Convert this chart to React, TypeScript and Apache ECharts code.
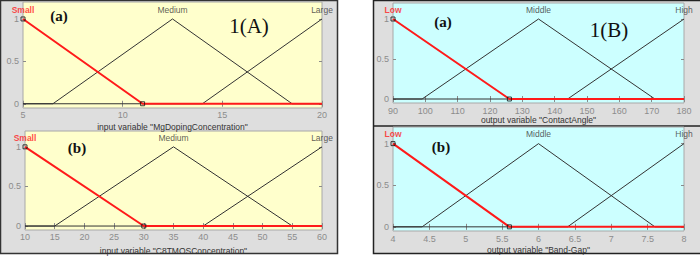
import React, { useEffect, useRef } from "react";
import * as echarts from "echarts";

// ---- Data ----
// Panel 1(A)(a): MgDopingConcentration
const mgRange = [5, 20];
const mgSmall = [[5, 1], [11, 0], [20, 0]];
const mgMedium = [[5, 0], [6.5, 0], [12.5, 1], [18.5, 0], [20, 0]];
const mgLarge = [[5, 0], [14, 0], [20, 1]];
const mgLabels = ["Small", "Medium", "Large"];
const mgLabelX = [5, 12.5, 20];

// Panel 1(A)(b): C8TMOSConcentration
const c8Range = [10, 60];
const c8Small = [[10, 1], [30, 0], [60, 0]];
const c8Medium = [[10, 0], [15, 0], [35, 1], [55, 0], [60, 0]];
const c8Large = [[10, 0], [40, 0], [60, 1]];
const c8Labels = ["Small", "Medium", "Large"];
const c8LabelX = [10, 35, 60];

// Panel 1(B)(a): ContactAngle
const caRange = [90, 180];
const caLow = [[90, 1], [126, 0], [180, 0]];
const caMiddle = [[90, 0], [99, 0], [135, 1], [171, 0], [180, 0]];
const caHigh = [[90, 0], [144, 0], [180, 1]];
const caLabels = ["Low", "Middle", "High"];
const caLabelX = [90, 135, 180];

// Panel 1(B)(b): Band-Gap
const bgRange = [4, 8];
const bgLow = [[4, 1], [5.6, 0], [8, 0]];
const bgMiddle = [[4, 0], [4.4, 0], [6, 1], [7.6, 0], [8, 0]];
const bgHigh = [[4, 0], [6.4, 0], [8, 1]];
const bgLabels = ["Low", "Middle", "High"];
const bgLabelX = [4, 6, 8];

const yTicks = [0, 0.5, 1];

export default function App() {
  const ref = useRef<HTMLDivElement>(null);

  useEffect(() => {
    if (!ref.current) return;
    const chart = echarts.init(ref.current, undefined, { renderer: "svg" });

    const YELLOW = "#ffffcc";
    const CYAN = "#ccffff";
    const GRAY = "#dedede";
    const TICK = "#8a8a8a";
    const SANS = "Liberation Sans, Arial, sans-serif";

    const panels = [
      {
        grid: { left: 23, top: 2, width: 299, height: 106 },
        bg: YELLOW, range: mgRange, interval: 5,
        name: 'input variable "MgDopingConcentration"', nameGap: 14, labelMargin: 2,
        sel: mgSmall, others: [mgMedium, mgLarge],
        labels: mgLabels, labelX: mgLabelX,
      },
      {
        grid: { left: 25, top: 131, width: 297, height: 102 },
        bg: YELLOW, range: c8Range, interval: 5,
        name: 'input variable "C8TMOSConcentration"', nameGap: 16, labelMargin: 2,
        sel: c8Small, others: [c8Medium, c8Large],
        labels: c8Labels, labelX: c8LabelX,
      },
      {
        grid: { left: 393, top: 3, width: 291, height: 100 },
        bg: CYAN, range: caRange, interval: 10,
        name: 'output variable "ContactAngle"', nameGap: 12, labelMargin: 3,
        sel: caLow, others: [caMiddle, caHigh],
        labels: caLabels, labelX: caLabelX,
      },
      {
        grid: { left: 393, top: 127, width: 291, height: 104 },
        bg: CYAN, range: bgRange, interval: 0.5,
        name: 'output variable "Band-Gap"', nameGap: 14, labelMargin: 3,
        sel: bgLow, others: [bgMiddle, bgHigh],
        labels: bgLabels, labelX: bgLabelX,
      },
    ];

    const grids: any[] = [];
    const xAxes: any[] = [];
    const yAxes: any[] = [];
    const series: any[] = [];

    panels.forEach((p, i) => {
      grids.push({
        ...p.grid,
        show: true,
        backgroundColor: p.bg,
        borderColor: "#a8a8a8",
        borderWidth: 1,
        containLabel: false,
      });
      const common = {
        gridIndex: i,
        type: "value",
        min: p.range[0],
        max: p.range[1],
        interval: p.interval,
        splitLine: { show: false },
        axisLine: { show: false },
        axisTick: { show: true, inside: true, length: 3, lineStyle: { color: TICK } },
      };
      xAxes.push({
        ...common,
        position: "bottom",
        axisLabel: {
          show: true, color: "#8c8c8c", fontSize: 9, margin: p.labelMargin,
          fontFamily: SANS,
        },
        name: p.name,
        nameLocation: "middle",
        nameGap: p.nameGap,
        nameTextStyle: { color: "#333", fontSize: 8.5, fontFamily: SANS },
      });
      xAxes.push({ ...common, position: "top", axisLabel: { show: false } });
      const ycommon = {
        gridIndex: i,
        type: "value",
        min: -0.05,
        max: 1.2,
        splitLine: { show: false },
        axisLine: { show: false },
      };
      yAxes.push({
        ...ycommon,
        position: "left",
        axisTick: { show: true, inside: true, length: 3, customValues: yTicks, lineStyle: { color: TICK } },
        axisLabel: {
          show: true, customValues: yTicks, color: "#8c8c8c", fontSize: 9, margin: 4,
          fontFamily: SANS,
        },
      });
      yAxes.push({
        ...ycommon,
        position: "right",
        axisTick: { show: true, inside: true, length: 3, customValues: yTicks, lineStyle: { color: TICK } },
        axisLabel: { show: false, customValues: yTicks },
      });

      p.others.forEach((d) => {
        series.push({
          type: "line", xAxisIndex: i * 2, yAxisIndex: i * 2, data: d,
          symbol: "none", lineStyle: { color: "#333", width: 1 }, z: 3,
        });
      });
      series.push({
        type: "line", xAxisIndex: i * 2, yAxisIndex: i * 2, data: p.sel,
        symbol: "none", lineStyle: { color: "#ff1a1a", width: 2 }, z: 4,
      });
      series.push({
        type: "scatter", xAxisIndex: i * 2, yAxisIndex: i * 2,
        data: [p.sel[0], p.sel[1]],
        symbol: "rect", symbolSize: 4,
        itemStyle: { color: "rgba(0,0,0,0)", borderColor: "#111", borderWidth: 1 }, z: 5,
      });
      series.push({
        type: "scatter", xAxisIndex: i * 2, yAxisIndex: i * 2,
        symbolSize: 0.1,
        itemStyle: { color: "rgba(0,0,0,0)" },
        data: p.labels.map((l, k) => ({
          value: [p.labelX[k], 1.11],
          label: {
            show: true, position: "inside", formatter: l,
            color: k === 0 ? "#ff2020" : "#333",
            fontWeight: k === 0 ? "bold" : "normal",
            fontSize: 8.5,
            fontFamily: SANS,
          },
        })),
        z: 6,
      });
    });

    const serifBold = { fontFamily: "Liberation Serif, Times New Roman, serif", fontWeight: "bold", fontSize: 15, fill: "#111" };
    const serif = { fontFamily: "Liberation Serif, Times New Roman, serif", fontSize: 21, fill: "#111" };

    chart.setOption({
      animation: false,
      backgroundColor: "#ffffff",
      grid: grids,
      xAxis: xAxes,
      yAxis: yAxes,
      series,
      graphic: [
        { type: "rect", z: -10, shape: { x: 0.5, y: 0.5, width: 337, height: 253 }, style: { fill: GRAY, stroke: "#333", lineWidth: 1.5 } },
        { type: "rect", z: -10, shape: { x: 373.5, y: 0.5, width: 330, height: 253 }, style: { fill: GRAY, stroke: "#222", lineWidth: 1.5 } },
        { type: "line", z: -9, shape: { x1: 373, y1: 126, x2: 700, y2: 126 }, style: { stroke: "#222", lineWidth: 1.5 } },
        { type: "text", z: 100, x: 59, y: 16, style: { ...serifBold, text: "(a)", textAlign: "center", textVerticalAlign: "middle" } },
        { type: "text", z: 100, x: 249, y: 26, style: { ...serif, text: "1(A)", textAlign: "center", textVerticalAlign: "middle" } },
        { type: "text", z: 100, x: 77, y: 148, style: { ...serifBold, text: "(b)", textAlign: "center", textVerticalAlign: "middle" } },
        { type: "text", z: 100, x: 443, y: 22, style: { ...serifBold, text: "(a)", textAlign: "center", textVerticalAlign: "middle" } },
        { type: "text", z: 100, x: 609, y: 30, style: { ...serif, text: "1(B)", textAlign: "center", textVerticalAlign: "middle" } },
        { type: "text", z: 100, x: 441, y: 147, style: { ...serifBold, text: "(b)", textAlign: "center", textVerticalAlign: "middle" } },
      ],
    });

    return () => chart.dispose();
  }, []);

  return (
    <div
      ref={ref}
      style={{ position: "absolute", left: 0, top: 0, width: 700, height: 256 }}
    />
  );
}
